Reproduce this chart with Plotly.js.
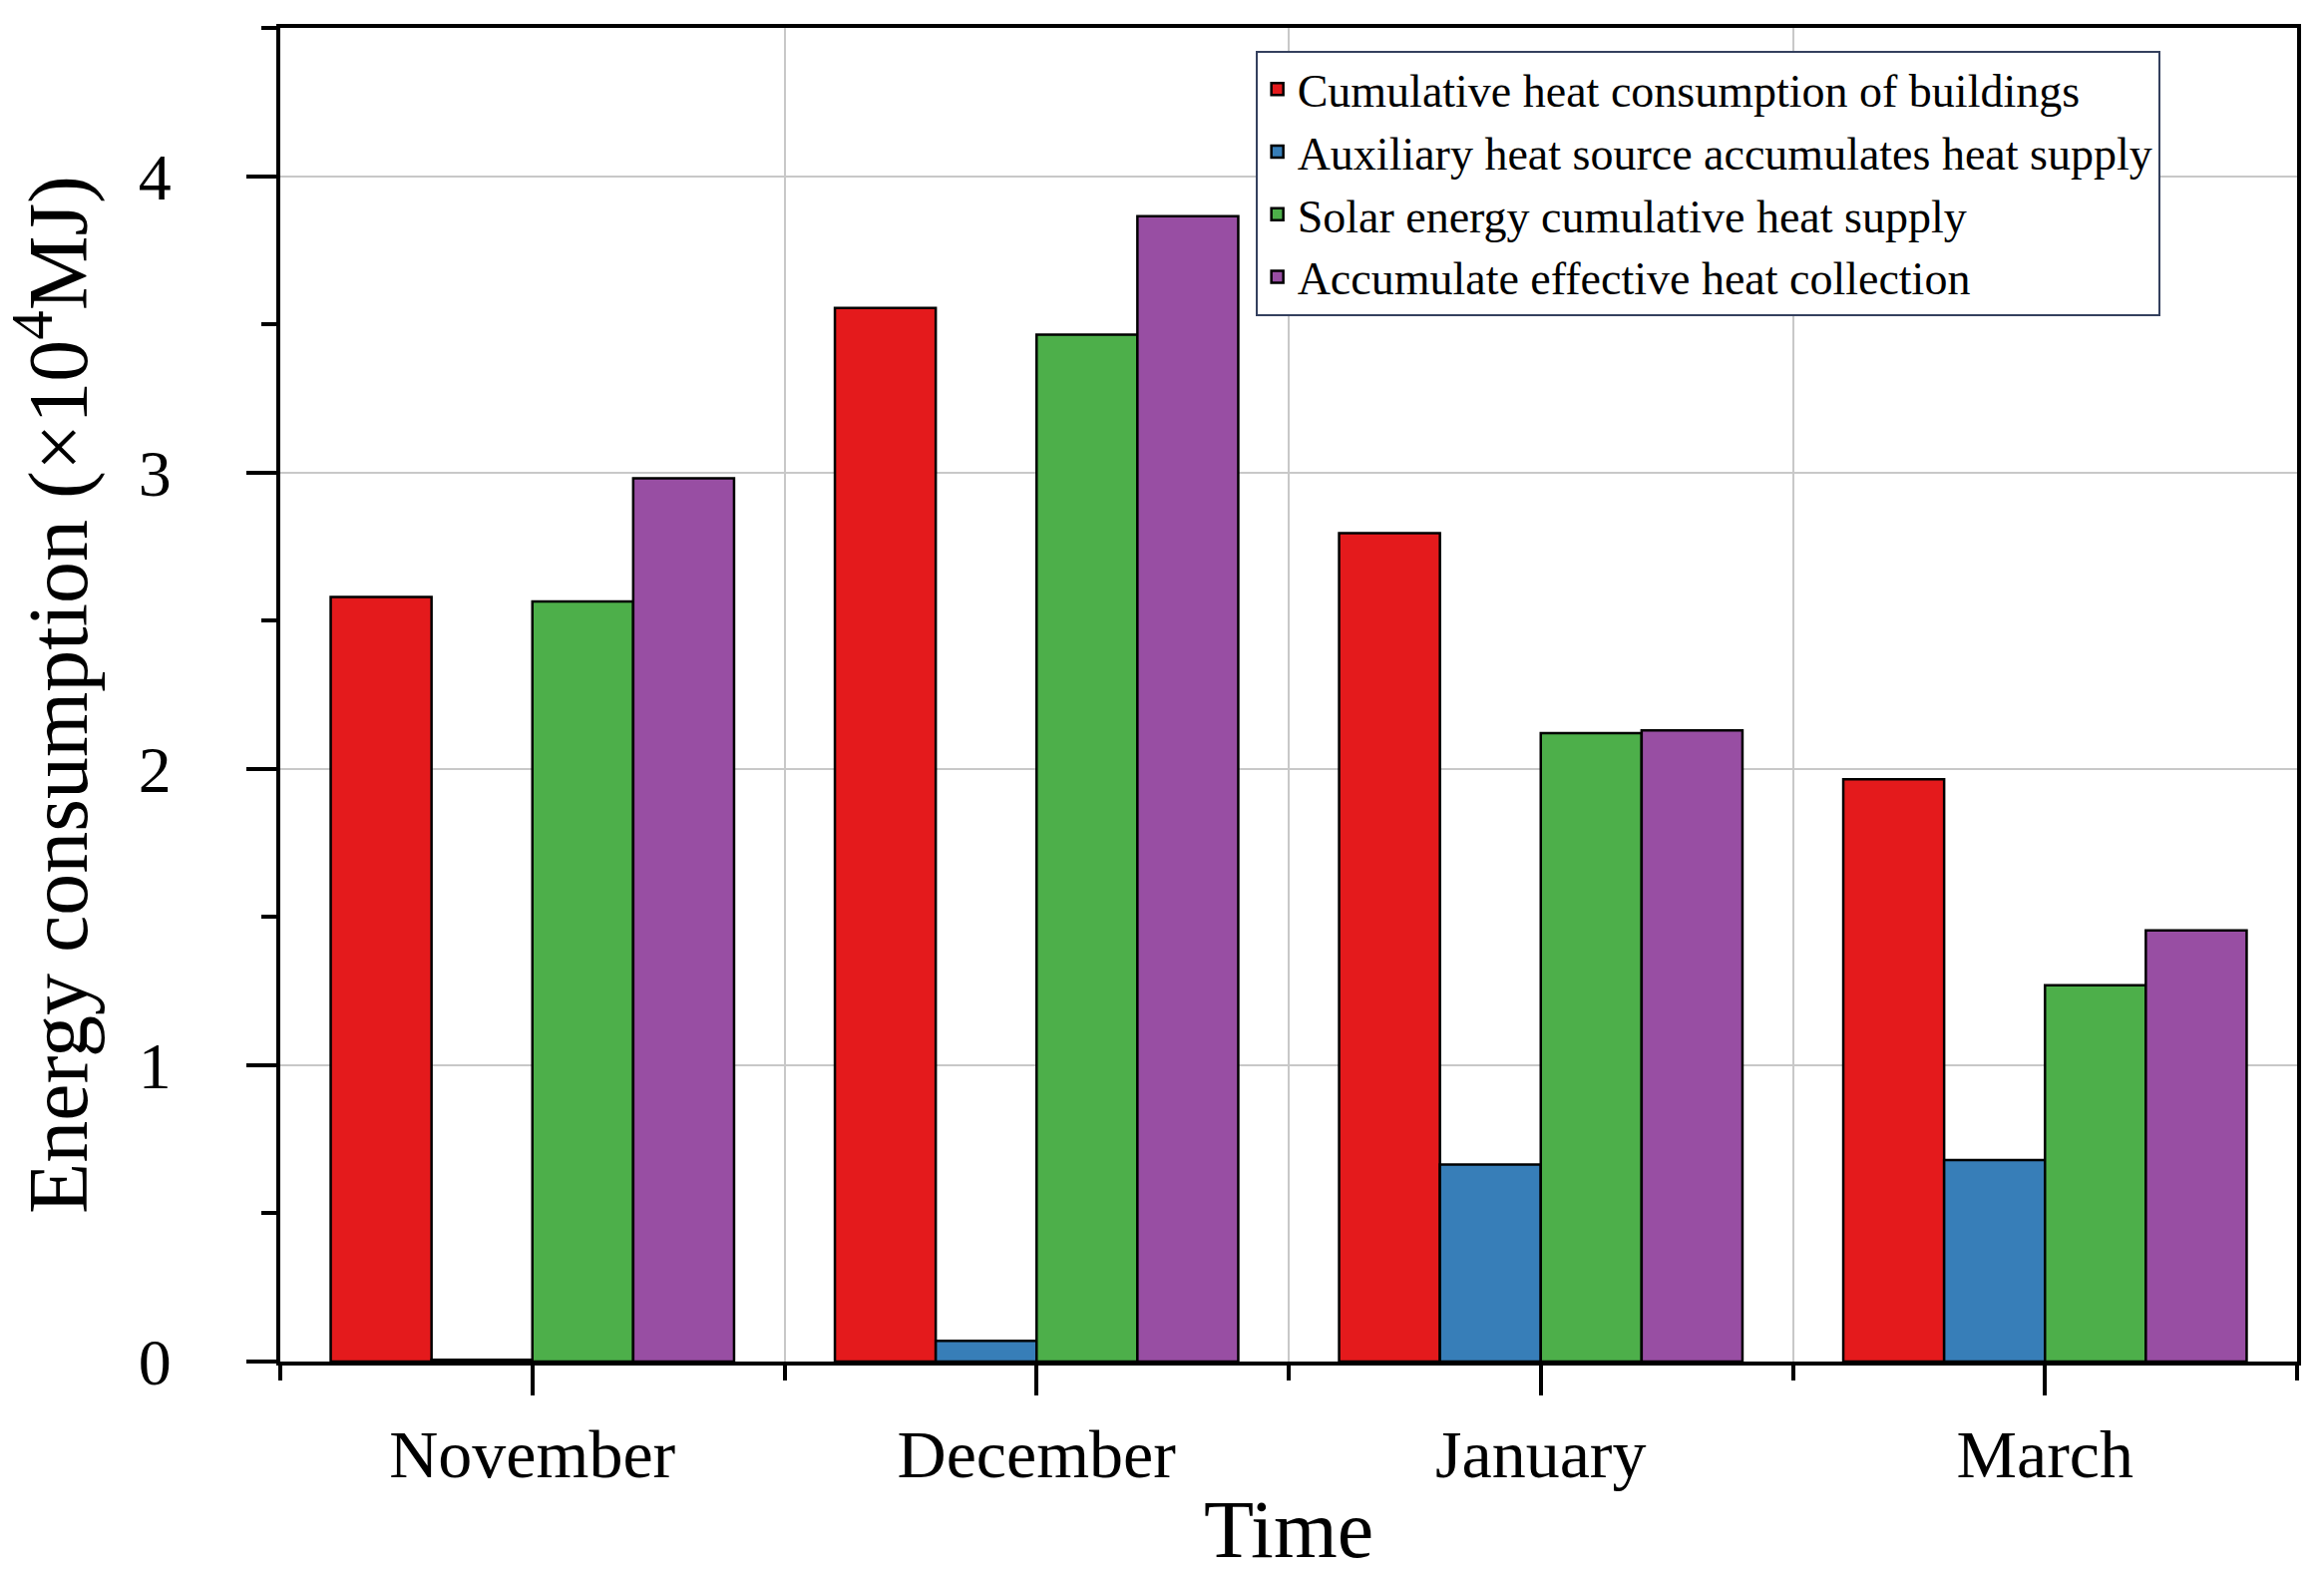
<!DOCTYPE html>
<html>
<head>
<meta charset="utf-8">
<script src="https://cdn.plot.ly/plotly-3.0.1.min.js"></script>
<style>html,body{margin:0;padding:0;background:#fff;}#chart{width:2330px;height:1579px;}</style>
</head>
<body>
<div id="chart"></div>
<script>
const months = ["November", "December", "January", "March"];
const seriesNames = [
  "Cumulative heat consumption of buildings",
  "Auxiliary heat source accumulates heat supply",
  "Solar energy cumulative heat supply",
  "Accumulate effective heat collection"
];
const buildingHeat = [2.58, 3.555, 2.795, 1.965];
const auxiliaryHeat = [0.006, 0.07, 0.665, 0.68];
const solarHeat = [2.565, 3.465, 2.12, 1.27];
const effectiveCollection = [2.98, 3.865, 2.13, 1.455];
const yTickVals = [0, 1, 2, 3, 4];
const yTickText = ["0", "1", "2", "3", "4"];

const colors = ["#e41a1c", "#377eb8", "#4daf4a", "#984ea3"];
const values = [buildingHeat, auxiliaryHeat, solarHeat, effectiveCollection];
const idx = months.map((m, i) => i);

const traces = values.map((v, k) => ({
  type: "bar",
  name: seriesNames[k],
  x: idx,
  y: v,
  marker: { color: colors[k], line: { color: "#000", width: 2.5 } },
  hoverinfo: "y+name"
}));

const FONT = "Liberation Serif, Times New Roman, serif";

const layout = {
  width: 2330,
  height: 1579,
  margin: { l: 281, r: 27, t: 28, b: 214 },
  paper_bgcolor: "#fff",
  plot_bgcolor: "#fff",
  barmode: "group",
  bargap: 0.2,
  bargroupgap: 0,
  font: { family: FONT, color: "#000" },
  showlegend: true,
  legend: {
    x: 0.4835, y: 0.983, xanchor: "left", yanchor: "top",
    bgcolor: "#fff", bordercolor: "#34405e", borderwidth: 2,
    font: { family: FONT, size: 46, color: "#000" },
    traceorder: "normal"
  },
  xaxis: {
    range: [-0.5, 3.5],
    tickvals: idx,
    ticktext: months,
    ticks: "outside", ticklen: 30, tickwidth: 4, tickcolor: "#000",
    showgrid: false, zeroline: false,
    showline: true, linecolor: "#000", linewidth: 4, mirror: true,
    tickfont: { family: FONT, size: 68, color: "#000" },
    ticklabelstandoff: 0,
    minor: {
      tick0: -0.5, dtick: 1, ticks: "outside", ticklen: 15, tickwidth: 4, tickcolor: "#000",
      showgrid: true, gridcolor: "#c8c8c8", gridwidth: 2
    },
    title: { text: "Time", font: { family: FONT, size: 82, color: "#000" }, standoff: 14 }
  },
  yaxis: {
    range: [0, 4.5],
    tickvals: yTickVals,
    ticktext: yTickText,
    ticks: "outside", ticklen: 30, tickwidth: 4, tickcolor: "#000",
    showgrid: true, gridcolor: "#c8c8c8", gridwidth: 2,
    zeroline: false,
    showline: true, linecolor: "#000", linewidth: 4, mirror: true,
    tickfont: { family: FONT, size: 66, color: "#000" },
    ticklabelstandoff: 62,
    minor: { tick0: 0, dtick: 0.5, ticks: "outside", ticklen: 15, tickwidth: 4, tickcolor: "#000", showgrid: false },
    title: { text: "Energy consumption (×10<sup>4</sup>MJ)", font: { family: FONT, size: 84, color: "#000" }, standoff: 58 }
  }
};

Plotly.newPlot("chart", traces, layout, { displayModeBar: false, staticPlot: true });
</script>
</body>
</html>
